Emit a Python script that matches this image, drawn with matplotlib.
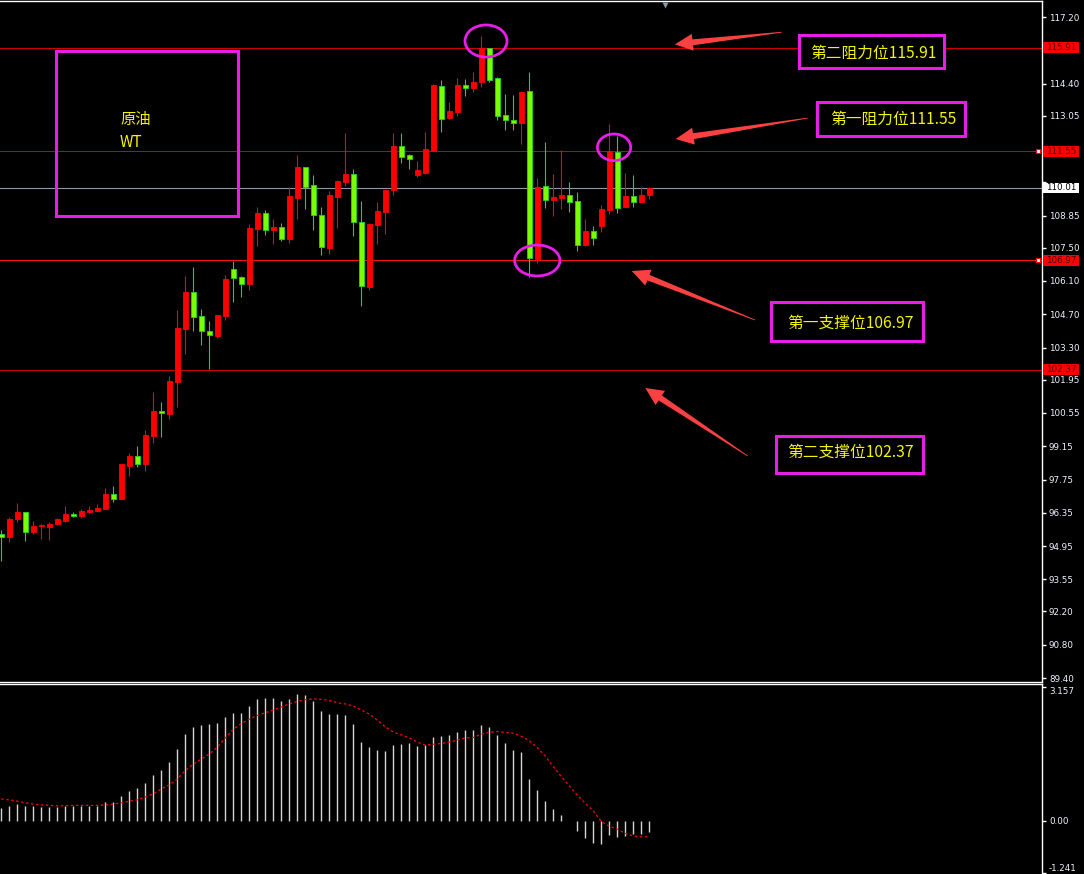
import numpy as np
import matplotlib.pyplot as plt
from matplotlib.patches import Rectangle, Ellipse, Polygon
import matplotlib.transforms as mtransforms

plt.rcParams['font.family'] = ['DejaVu Sans']
CJK = ['Noto Sans CJK SC', 'DejaVu Sans']

# 原油 WT 日线 K线数据
opens = [95.46, 95.33, 96.09, 96.38, 95.54, 95.78, 95.76, 95.88, 96.01, 96.30,
         96.22, 96.38, 96.43, 96.51, 97.14, 96.93, 98.32, 98.74, 98.40, 99.58,
         100.63, 100.51, 101.85, 104.08, 105.64, 104.63, 103.99, 103.79, 104.63, 106.60,
         106.27, 105.97, 108.29, 108.96, 108.24, 108.37, 107.86, 109.59, 110.89, 110.14,
         108.87, 107.49, 109.63, 110.26, 110.60, 108.58, 105.85, 108.45, 109.00, 109.92,
         111.78, 111.40, 110.56, 110.64, 111.56, 114.30, 112.95, 113.21, 114.34, 114.21,
         114.47, 115.90, 114.63, 113.08, 112.87, 112.74, 114.09, 107.02, 110.09, 109.50,
         109.59, 109.71, 109.46, 107.61, 108.20, 108.41, 109.08, 111.52, 109.21, 109.67,
         109.42, 109.71]
highs = [95.63, 96.17, 96.76, 96.38, 96.01, 95.88, 95.96, 96.13, 96.64, 96.38,
         96.51, 96.64, 96.72, 97.39, 97.48, 98.40, 98.87, 99.16, 99.83, 101.43,
         101.01, 102.10, 104.88, 106.31, 106.69, 104.92, 104.42, 104.67, 106.35, 106.94,
         106.31, 108.50, 109.21, 109.08, 108.71, 108.54, 110.05, 111.40, 110.89, 110.56,
         109.21, 109.88, 110.35, 112.32, 110.81, 109.46, 108.54, 109.42, 109.92, 112.32,
         112.32, 111.44, 111.14, 112.36, 114.38, 114.55, 113.63, 114.63, 114.59, 114.89,
         116.40, 115.90, 114.68, 113.96, 113.92, 114.09, 114.89, 110.43, 111.94, 110.60,
         111.61, 110.26, 109.84, 108.71, 108.41, 109.29, 112.70, 112.20, 110.64, 110.56,
         110.05, 110.05]
lows = [94.32, 95.12, 95.96, 95.16, 95.46, 95.25, 95.21, 95.88, 95.96, 96.17,
        96.13, 96.34, 96.43, 96.51, 96.81, 96.93, 97.90, 98.28, 98.11, 99.29,
        99.54, 100.30, 100.80, 103.03, 103.99, 103.41, 102.40, 103.70, 104.46, 105.22,
        105.43, 105.72, 107.57, 108.03, 107.65, 107.78, 107.70, 108.71, 109.13, 108.24,
        107.19, 107.23, 108.33, 110.09, 107.99, 105.05, 105.72, 107.65, 108.07, 109.71,
        111.06, 110.81, 110.47, 110.60, 111.56, 112.36, 112.91, 113.04, 113.88, 114.05,
        114.26, 114.47, 112.87, 112.45, 112.45, 111.86, 106.27, 106.86, 109.17, 108.83,
        109.13, 109.00, 107.36, 107.57, 107.61, 108.16, 108.92, 108.96, 109.21, 109.21,
        109.42, 109.55]
closes = [95.33, 96.09, 96.38, 95.54, 95.80, 95.82, 95.88, 96.09, 96.30, 96.22,
          96.43, 96.47, 96.55, 97.14, 96.93, 98.40, 98.74, 98.40, 99.62, 100.63,
          100.55, 101.89, 104.12, 105.64, 104.58, 103.99, 103.83, 104.67, 106.18, 106.22,
          105.97, 108.33, 108.96, 108.24, 108.37, 107.86, 109.67, 110.89, 110.05, 108.87,
          107.53, 109.71, 110.30, 110.60, 108.58, 105.89, 108.50, 109.04, 109.92, 111.78,
          111.31, 111.23, 110.77, 111.65, 114.34, 112.91, 113.25, 114.34, 114.21, 114.47,
          115.90, 114.55, 113.04, 112.87, 112.74, 114.05, 107.07, 110.05, 109.50, 109.63,
          109.71, 109.42, 107.61, 108.20, 107.91, 109.13, 111.56, 109.17, 109.67, 109.42,
          109.71, 110.01]

# MACD 柱 和 信号线
macd_hist = [0.30, 0.35, 0.39, 0.35, 0.35, 0.32, 0.32, 0.32, 0.35, 0.35,
             0.35, 0.35, 0.35, 0.44, 0.44, 0.58, 0.70, 0.77, 0.89, 1.08,
             1.19, 1.38, 1.69, 2.04, 2.21, 2.25, 2.28, 2.30, 2.44, 2.54,
             2.54, 2.70, 2.87, 2.89, 2.89, 2.82, 2.87, 2.98, 2.96, 2.82,
             2.58, 2.51, 2.51, 2.49, 2.28, 1.85, 1.74, 1.66, 1.64, 1.78,
             1.81, 1.83, 1.76, 1.78, 1.97, 1.99, 2.02, 2.09, 2.14, 2.14,
             2.25, 2.21, 2.02, 1.83, 1.66, 1.62, 0.98, 0.72, 0.46, 0.27,
             0.13, 0.00, -0.24, -0.41, -0.53, -0.55, -0.34, -0.38, -0.36, -0.31,
             -0.31, -0.27]
macd_signal = [0.51, 0.49, 0.46, 0.42, 0.39, 0.37, 0.36, 0.35, 0.35, 0.36,
               0.36, 0.36, 0.36, 0.37, 0.39, 0.42, 0.46, 0.49, 0.56, 0.63,
               0.75, 0.84, 0.98, 1.18, 1.33, 1.45, 1.57, 1.73, 1.95, 2.15,
               2.29, 2.39, 2.48, 2.54, 2.61, 2.68, 2.75, 2.81, 2.85, 2.87,
               2.86, 2.83, 2.78, 2.75, 2.70, 2.61, 2.51, 2.37, 2.21, 2.09,
               2.02, 1.95, 1.85, 1.78, 1.80, 1.82, 1.85, 1.90, 1.95, 1.96,
               2.04, 2.08, 2.10, 2.08, 2.06, 1.99, 1.88, 1.72, 1.52, 1.27,
               1.04, 0.82, 0.60, 0.41, 0.23, -0.02, -0.13, -0.20, -0.30, -0.36,
               -0.38, -0.38]

# 右侧价格刻度 (被价格标签盖住的刻度不写字)
price_ticks = [117.20, 115.80, 114.40, 113.05, 111.65, 110.25, 108.85, 107.50, 106.10, 104.70,
               103.30, 101.95, 100.55, 99.15, 97.75, 96.35, 94.95, 93.55, 92.20, 90.80, 89.40]
hidden_ticks = [115.80, 111.65, 110.25]
macd_ticks = [3.157, 0.00, -1.241]
macd_tick_labels = ['3.157', '0.00', '-1.241']

# 支撑阻力位
levels = [115.91, 111.55, 106.97, 102.37]
level_names = ['第二阻力位', '第一阻力位', '第一支撑位', '第二支撑位']
last_price = 110.01

RED = '#ff0000'
GREEN_FACE = '#7cfc00'
GREEN_EDGE = '#20d820'
MAGENTA = '#e81ee8'
ARROW = '#fa4040'
YELLOW = '#f5f500'

fig = plt.figure(figsize=(10.84, 8.74), dpi=100, facecolor='black')
ax = fig.add_axes([0.0, 0.2200, 0.96125, 0.77886], facecolor='black')
ax2 = fig.add_axes([0.0, 0.0, 0.96125, 0.21796], facecolor='black')

x = np.arange(len(opens))
o = np.array(opens); h = np.array(highs); l = np.array(lows); c = np.array(closes)
up = c >= o
cols = np.where(up, RED, GREEN_EDGE)

# K线
ax.vlines(x, l, h, colors=cols, lw=0.8, zorder=2)
body_bottom = np.minimum(o, c)
body_h = np.maximum(np.abs(c - o), 0.07)
ax.bar(x[up], body_h[up], bottom=body_bottom[up], width=0.6,
       color=RED, edgecolor=RED, linewidth=0.6, zorder=3)
ax.bar(x[~up], body_h[~up], bottom=body_bottom[~up], width=0.6,
       color=GREEN_FACE, edgecolor=GREEN_EDGE, linewidth=0.6, zorder=3)

ax.set_xlim(-0.1625, 130.09)
ax.set_ylim(89.247, 117.873)

# 水平线
for lv in levels:
    lc = '#ff1010' if lv == 106.97 else '#cc0000'
    ax.axhline(lv, color=lc, lw=0.75, zorder=1)
ax.axhline(last_price, color='#8a9aaa', lw=0.8, zorder=1)

# 坐标轴
ax.spines['left'].set_visible(False)
for s in ['top', 'right', 'bottom']:
    ax.spines[s].set_color('white')
    ax.spines[s].set_linewidth(1.0)
ax.set_xticks([])
ax.yaxis.tick_right()
ax.set_yticks(price_ticks)
ax.set_yticklabels(['' if v in hidden_ticks else '%.2f' % v for v in price_ticks])
ax.tick_params(axis='y', colors='white', labelcolor='#eef4ff', length=3, width=1,
               pad=2, labelsize=6.3, direction='out')

# 右侧价格标签
tr = mtransforms.blended_transform_factory(ax.transAxes, ax.transData)
tag_w = 36.6 / 1042
tag_h = 10.7 / 23.78
for lv in levels:
    ax.add_patch(Rectangle((1.0007, lv - tag_h / 2), tag_w, tag_h, transform=tr,
                           facecolor=RED, edgecolor='none', clip_on=False, zorder=6))
    ax.text(1.0007 + tag_w / 2, lv, '%.2f' % lv, transform=tr, ha='center', va='center',
            fontsize=6.3, color='#500000', clip_on=False, zorder=7)
    if lv in (111.55, 106.97):
        ax.plot([129.6], [lv], marker='s', ms=3.5, mfc='white', mec=RED, mew=0.8,
                clip_on=False, zorder=6)
ax.add_patch(Rectangle((1.0007, last_price - tag_h / 2), tag_w, tag_h, transform=tr,
                       facecolor='white', edgecolor='none', clip_on=False, zorder=6))
ax.text(1.0007 + tag_w / 2, last_price, '%.2f' % last_price, transform=tr, ha='center',
        va='center', fontsize=6.3, color='black', clip_on=False, zorder=7)

# 顶部小三角
ax.plot([82.96], [117.72], marker='v', ms=5, color='#8899aa', mec='none', zorder=5)

# 左上角品种框
ax.add_patch(Rectangle((6.84, 108.84), 22.71, 6.93, fill=False, edgecolor=MAGENTA,
                       lw=2.2, zorder=5))
ax.text(14.84, 112.87, '原油', family=CJK, fontsize=11, color=YELLOW, va='center', zorder=6)
ax.text(14.84, 111.92, 'WT', family=CJK, fontsize=11, color=YELLOW, va='center', zorder=6)

# 标注框
boxes = [(99.7, 115.07, 18.1, 1.37, 108.96, 115.67),
         (102.0, 112.20, 18.45, 1.43, 111.5, 112.90),
         (96.2, 103.59, 19.05, 1.61, 106.1, 104.34),
         (96.8, 98.01, 18.45, 1.58, 106.2, 98.88)]
for (bx, by, bw, bh, tx, ty), name, lv in zip(boxes, level_names, levels):
    ax.add_patch(Rectangle((bx, by), bw, bh, facecolor='black', edgecolor=MAGENTA,
                           lw=2.2, zorder=5))
    ax.text(tx, ty, '%s%.2f' % (name, lv), family=CJK, fontsize=11.3, color=YELLOW,
            ha='center', va='center', zorder=6)

# 圈出关键点
for cx, cy, ew, eh in [(60.59, 116.19, 5.25, 1.35), (76.6, 111.72, 4.16, 1.12),
                       (67.0, 106.96, 5.66, 1.30)]:
    ax.add_patch(Ellipse((cx, cy), ew, eh, fill=False, edgecolor=MAGENTA, lw=2.0, zorder=6))

# 红色箭头 (在像素空间里画出楔形, 再转回数据坐标)
fig.canvas.draw()
def wedge_arrow(tail, tip):
    p0 = ax.transData.transform(tail)
    p1 = ax.transData.transform(tip)
    d = p1 - p0
    L = np.hypot(*d)
    u = d / L
    n = np.array([-u[1], u[0]])
    hl, hw, nw, tw = 18.0, 8.5, 3.0, 0.4
    neck = p1 - u * hl
    pts = [p0 + n * tw, neck + n * nw, neck + n * hw, p1,
           neck - n * hw, neck - n * nw, p0 - n * tw]
    pts = ax.transData.inverted().transform(np.array(pts))
    ax.add_patch(Polygon(pts, closed=True, facecolor=ARROW, edgecolor='none', zorder=6))

wedge_arrow((97.55, 116.56), (84.2, 116.05))
wedge_arrow((100.8, 112.95), (84.3, 112.07))
wedge_arrow((94.2, 104.46), (78.8, 106.52))
wedge_arrow((93.3, 98.74), (80.5, 101.60))

# MACD 副图
ax2.vlines(x, 0, macd_hist, colors='#d4d4d4', lw=1.0)
ax2.plot(x, macd_signal, color=RED, lw=0.9, ls=(0, (2, 2)))
ax2.set_xlim(-0.1625, 130.09)
ax2.set_ylim(-1.257, 3.232)
ax2.spines['left'].set_visible(False)
ax2.spines['bottom'].set_visible(False)
for s in ['top', 'right']:
    ax2.spines[s].set_color('white')
    ax2.spines[s].set_linewidth(1.0)
ax2.set_xticks([])
ax2.yaxis.tick_right()
ax2.set_yticks(macd_ticks)
ax2.set_yticklabels(macd_tick_labels)
ax2.tick_params(axis='y', colors='white', labelcolor='#eef4ff', length=3, width=1,
                pad=2, labelsize=6.3)
labs = ax2.get_yticklabels()
labs[0].set_va('top')
labs[2].set_va('bottom')

fig.savefig('out.png', dpi=100, facecolor='black')
